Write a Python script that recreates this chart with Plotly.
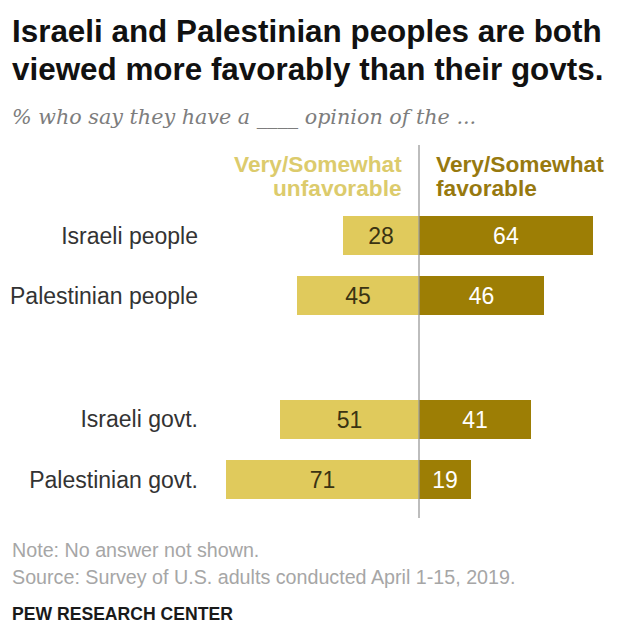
import plotly.graph_objects as go

categories = ["Israeli people", "Palestinian people", "Israeli govt.", "Palestinian govt."]
unfavorable = [28, 45, 51, 71]
favorable = [64, 46, 41, 19]
group_gap = [0, 0, 1.05, 1.05]  # blank slot between peoples and govts

ypos = [i + g for i, g in enumerate(group_gap)]

LIGHT = "#e0ca5c"
DARK = "#9d7e05"
FONT = "Liberation Sans"

# the page body has an 8px margin; work in reference pixel coordinates and shift
OFF = 8
W, H = 618 - OFF, 643 - OFF


def fx(x):
    return x - OFF


def fy(y):
    return y - OFF


fig = go.Figure()
fig.add_trace(go.Bar(
    y=ypos, x=[-v for v in unfavorable], orientation="h", width=0.64,
    marker=dict(color=LIGHT, line=dict(width=0)),
    text=[str(v) for v in unfavorable], textposition="inside",
    insidetextanchor="middle", textangle=0,
    textfont=dict(family=FONT, size=23, color="#3a3312"),
    hoverinfo="skip", showlegend=False,
))
fig.add_trace(go.Bar(
    y=ypos, x=favorable, orientation="h", width=0.64,
    marker=dict(color=DARK, line=dict(width=0)),
    text=[str(v) for v in favorable], textposition="inside",
    insidetextanchor="middle", textangle=0,
    textfont=dict(family=FONT, size=23, color="#ffffff"),
    hoverinfo="skip", showlegend=False,
))

# vertical zero line
fig.add_shape(type="line", xref="x", yref="paper", x0=0, x1=0, y0=0, y1=1,
              line=dict(color="#9a9a9a", width=1.3), layer="above")

# plot area in reference pixels
PL, PR, PT, PB = 205, 610, 145, 518
CENTER = 419
L, R, T, B = fx(PL), W - fx(PR), fy(PT), H - fy(PB)
px_per_unit = 2.72
x_left = -(CENTER - PL) / px_per_unit
x_right = (PR - CENTER) / px_per_unit
pitch = 60.25
row0 = 235.5
y_top = -(row0 - PT) / pitch
y_bot = (PB - row0) / pitch

fig.update_layout(
    width=W, height=H,
    margin=dict(l=L, r=R, t=T, b=B, autoexpand=False),
    paper_bgcolor="white", plot_bgcolor="white",
    barmode="relative", bargap=0,
    font=dict(family=FONT),
    xaxis=dict(range=[x_left, x_right], visible=False, fixedrange=True),
    yaxis=dict(range=[y_bot, y_top], tickvals=ypos, ticktext=categories,
               showgrid=False, zeroline=False, showline=False, ticks="",
               ticklabelstandoff=6, fixedrange=True,
               tickfont=dict(family=FONT, size=23, color="#333333")),
)


def ann(text, x, y, size, color, xanchor="left", bold=False, italic=False, family=FONT):
    if bold:
        text = f"<b>{text}</b>"
    if italic:
        text = f"<i>{text}</i>"
    fig.add_annotation(text=text, xref="paper", yref="paper",
                       x=(fx(x) - L) / (W - L - R), y=1 - (fy(y) - T) / (H - T - B),
                       xanchor=xanchor, yanchor="middle", showarrow=False,
                       font=dict(family=family, size=size, color=color))


ann("Israeli and Palestinian peoples are both", 10, 31, 31.4, "#111111", bold=True)
ann("viewed more favorably than their govts.", 10, 69, 31.4, "#111111", bold=True)
ann("% who say they have a ____ opinion of the ...", 10, 117, 20.7, "#7d7d7d",
    italic=True, family="DejaVu Serif")
ann("Very/Somewhat", 404, 164, 22.7, "#dccb6c", xanchor="right", bold=True)
ann("unfavorable", 404, 188, 22.7, "#dccb6c", xanchor="right", bold=True)
ann("Very/Somewhat", 434, 164, 22.7, "#97790f", bold=True)
ann("favorable", 434, 188, 22.7, "#97790f", bold=True)
ann("Note: No answer not shown.", 10, 550, 19.7, "#a6a6a6")
ann("Source: Survey of U.S. adults conducted April 1-15, 2019.", 10, 577, 19.7, "#a6a6a6")
ann("PEW RESEARCH CENTER", 10, 614, 17.6, "#1a1a1a", bold=True)

fig.write_html("out.html")
